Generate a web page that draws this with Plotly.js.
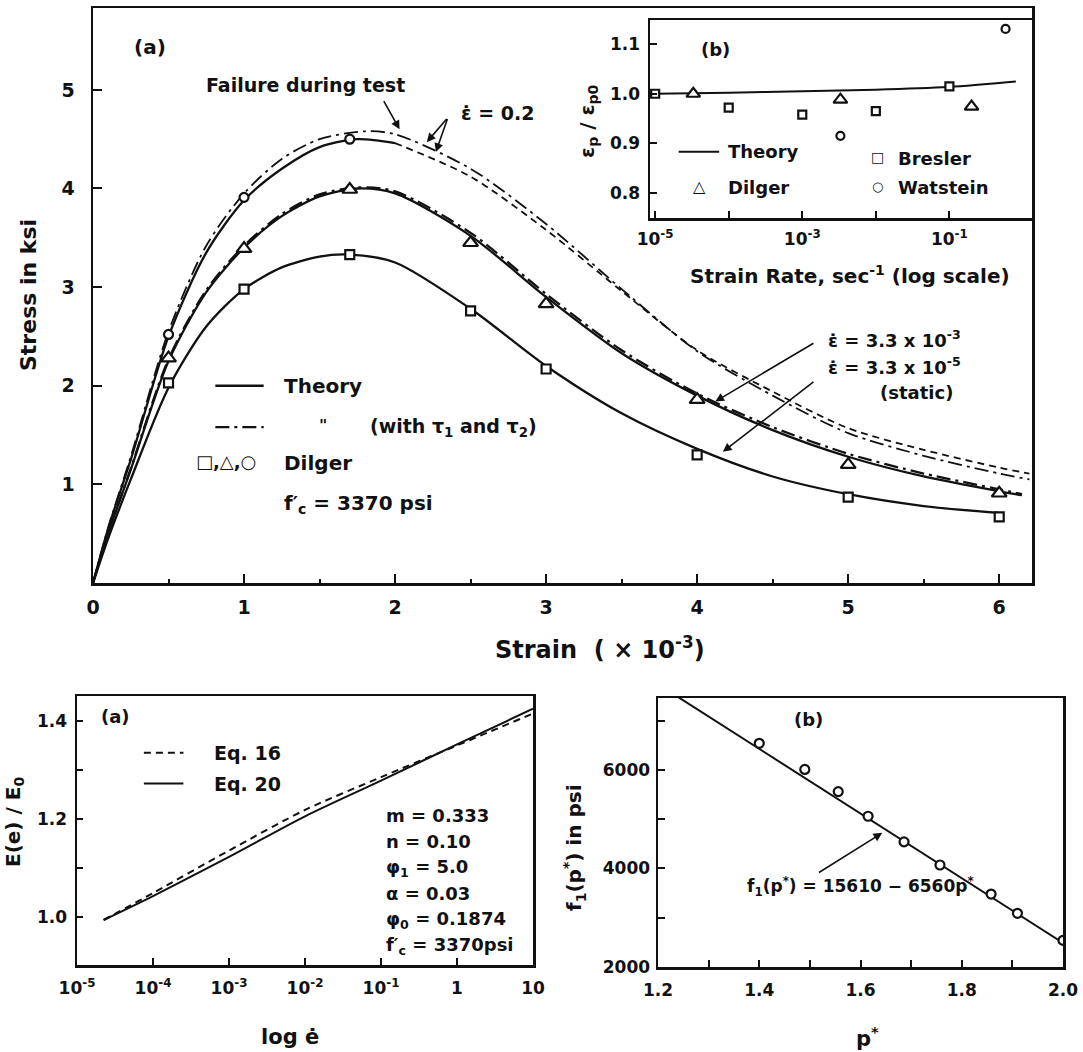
<!DOCTYPE html>
<html>
<head>
<meta charset="utf-8">
<script src="https://cdn.plot.ly/plotly-3.0.1.min.js"></script>
<style>html,body{margin:0;padding:0;background:#fff;}#chart{width:1083px;height:1052px;}</style>
</head>
<body>
<div id="chart"></div>
<script>
// ---------- Main plot (a): stress-strain ----------
const strainStatic = [0, 0.1, 0.25, 0.5, 0.75, 1.0, 1.25, 1.5, 1.7, 2.0, 2.5, 3.0, 3.5, 4.0, 4.5, 5.0, 5.5, 6.0];
const stressStatic = [0, 0.45, 1.05, 1.98, 2.6, 2.98, 3.2, 3.31, 3.33, 3.25, 2.78, 2.2, 1.72, 1.36, 1.08, 0.9, 0.78, 0.71];

const strainMid = [0, 0.1, 0.25, 0.5, 0.75, 1.0, 1.25, 1.5, 1.75, 2.0, 2.5, 3.0, 3.5, 4.0, 4.5, 5.0, 5.5, 6.0, 6.15];
const stressMid = [0, 0.5, 1.15, 2.25, 2.95, 3.4, 3.72, 3.92, 4.0, 3.95, 3.52, 2.9, 2.33, 1.9, 1.55, 1.28, 1.08, 0.93, 0.89];
const stressMidTau = [0, 0.5, 1.16, 2.27, 2.97, 3.42, 3.74, 3.94, 4.01, 3.97, 3.55, 2.93, 2.36, 1.92, 1.58, 1.31, 1.11, 0.95, 0.9];

const strainTop = [0, 0.1, 0.25, 0.5, 0.75, 1.0, 1.25, 1.5, 1.75, 2.0];
const stressTop = [0, 0.55, 1.25, 2.5, 3.35, 3.88, 4.2, 4.42, 4.5, 4.46];
const strainTopExt = [2.0, 2.5, 3.0, 3.5, 4.0, 4.5, 5.0, 5.5, 6.0, 6.2];
const stressTopExt = [4.46, 4.12, 3.58, 2.96, 2.36, 1.94, 1.57, 1.35, 1.17, 1.11];
const strainTopTau = [0, 0.1, 0.25, 0.5, 0.75, 1.0, 1.25, 1.5, 1.8, 2.0, 2.5, 3.0, 3.5, 4.0, 4.5, 5.0, 5.5, 6.0, 6.2];
const stressTopTau = [0, 0.56, 1.28, 2.55, 3.42, 3.95, 4.3, 4.5, 4.58, 4.55, 4.2, 3.64, 2.98, 2.35, 1.9, 1.52, 1.29, 1.11, 1.05];

const squareStrain = [0.5, 1.0, 1.7, 2.5, 3.0, 4.0, 5.0, 6.0];
const squareStress = [2.03, 2.98, 3.33, 2.76, 2.17, 1.3, 0.87, 0.67];
const triangleStrain = [0.5, 1.0, 1.7, 2.5, 3.0, 4.0, 5.0, 6.0];
const triangleStress = [2.28, 3.39, 3.99, 3.45, 2.83, 1.86, 1.2, 0.91];
const circleStrain = [0.5, 1.0, 1.7];
const circleStress = [2.52, 3.91, 4.5];

const mainXTicks = [0, 1, 2, 3, 4, 5, 6];
const mainYTicks = [1, 2, 3, 4, 5];

// ---------- Inset (b): peak strain ratio vs strain rate ----------
const theoryRate = [1e-5, 1e-4, 1e-3, 1e-2, 1e-1, 0.8];
const theoryRatio = [1.0, 1.002, 1.005, 1.008, 1.014, 1.025];
const breslerRate = [1e-5, 1e-4, 1e-3, 1e-2, 1e-1];
const breslerRatio = [1.0, 0.972, 0.958, 0.965, 1.015];
const dilgerRate = [3.3e-5, 3.3e-3, 0.2];
const dilgerRatio = [1.0, 0.988, 0.974];
const watsteinRate = [3.3e-3, 0.58];
const watsteinRatio = [0.915, 1.131];
const insetXTicks = [1e-5, 1e-4, 1e-3, 1e-2, 1e-1];
const insetXLabels = ['10<sup>-5</sup>', '', '10<sup>-3</sup>', '', '10<sup>-1</sup>'];
const insetYTicks = [0.8, 0.9, 1.0, 1.1];
const insetYLabels = ['0.8', '0.9', '1.0', '1.1'];

// ---------- Bottom (a): E(e)/E0 vs log strain rate ----------
const rateE = [2.24e-5, 1e-4, 1e-3, 1e-2, 1e-1, 1, 10];
const eq20 = [0.993, 1.042, 1.122, 1.205, 1.278, 1.352, 1.425];
const eq16 = [0.993, 1.048, 1.135, 1.218, 1.285, 1.35, 1.415];
const bottomAXTicks = [1e-5, 1e-4, 1e-3, 1e-2, 1e-1, 1, 10];
const bottomAXLabels = ['10<sup>-5</sup>', '10<sup>-4</sup>', '10<sup>-3</sup>', '10<sup>-2</sup>', '10<sup>-1</sup>', '1', '10'];
const bottomAYTicks = [1.0, 1.1, 1.2, 1.3, 1.4];
const bottomAYLabels = ['1.0', '', '1.2', '', '1.4'];
const paramLines = ['m = 0.333', 'n = 0.10', 'φ<sub>1</sub> = 5.0', 'α = 0.03', 'φ<sub>0</sub> = 0.1874', 'f′<sub>c</sub> = 3370psi'];

// ---------- Bottom (b): f1(p*) vs p* ----------
const pStar = [1.4, 1.49, 1.556, 1.615, 1.686, 1.757, 1.858, 1.91, 2.0];
const f1 = [6540, 6010, 5560, 5060, 4540, 4070, 3480, 3090, 2540];
const pLine = [1.2, 2.0];
const fLine = [7740, 2490];
const bottomBXTicks = [1.2, 1.3, 1.4, 1.5, 1.6, 1.7, 1.8, 1.9, 2.0];
const bottomBXLabels = ['1.2', '', '1.4', '', '1.6', '', '1.8', '', '2.0'];
const bottomBYTicks = [2000, 3000, 4000, 5000, 6000, 7000];
const bottomBYLabels = ['2000', '', '4000', '', '6000', ''];

const FONT = 'DejaVu Sans';
const K = '#111';
const DASHDOT = '14px,5px,3px,5px';
const DASH = '7px,5px';

function ln(x, y, dash, xa, ya, w, shape) {
  return {x: x, y: y, xaxis: xa || 'x', yaxis: ya || 'y', type: 'scatter', mode: 'lines',
    line: {color: K, width: w || 2.3, dash: dash || 'solid', shape: shape || 'spline', smoothing: 0.8},
    hoverinfo: 'skip', showlegend: false};
}
function mk(x, y, sym, size, xa, ya) {
  return {x: x, y: y, xaxis: xa || 'x', yaxis: ya || 'y', type: 'scatter', mode: 'markers',
    marker: {symbol: sym, size: size, color: '#fff', line: {color: K, width: 2.2}},
    hoverinfo: 'skip', showlegend: false};
}

const traces = [
  ln(strainStatic, stressStatic, 'solid'),
  ln(strainMid, stressMid, 'solid'),
  ln(strainMid, stressMidTau, DASHDOT),
  ln(strainTop, stressTop, 'solid'),
  ln(strainTopExt, stressTopExt, DASH, 'x', 'y', 1.8),
  ln(strainTopTau, stressTopTau, DASHDOT, 'x', 'y', 1.8),
  mk(squareStrain, squareStress, 'square', 9),
  mk(triangleStrain, triangleStress, 'triangle-up', 13),
  mk(circleStrain, circleStress, 'circle', 9),

  ln(theoryRate, theoryRatio, 'solid', 'x2', 'y2', 2),
  mk(breslerRate, breslerRatio, 'square', 8, 'x2', 'y2'),
  mk(dilgerRate, dilgerRatio, 'triangle-up', 12, 'x2', 'y2'),
  mk(watsteinRate, watsteinRatio, 'circle', 8, 'x2', 'y2'),

  ln(rateE, eq16, DASH, 'x3', 'y3', 2),
  ln(rateE, eq20, 'solid', 'x3', 'y3', 2),

  ln(pLine, fLine, 'solid', 'x4', 'y4', 2, 'linear'),
  mk(pStar, f1, 'circle', 9, 'x4', 'y4')
];

// legend sample strokes (layout decoration, drawn as short line traces)
function sample(x0, x1, y, dash, xa, ya, w) {
  traces.push({x: [x0, x1], y: [y, y], xaxis: xa, yaxis: ya, type: 'scatter', mode: 'lines',
    line: {color: K, width: w, dash: dash}, hoverinfo: 'skip', showlegend: false});
}
sample(0.81, 1.13, 2.0, 'solid', 'x', 'y', 2.3);
sample(0.81, 1.13, 1.58, DASHDOT, 'x', 'y', 2.3);
sample(Math.pow(10, -4.68), Math.pow(10, -4.13), 0.883, 'solid', 'x2', 'y2', 2);
sample(Math.pow(10, -4.12), Math.pow(10, -3.6), 1.335, DASH, 'x3', 'y3', 2);
sample(Math.pow(10, -4.12), Math.pow(10, -3.6), 1.272, 'solid', 'x3', 'y3', 2);

const W = 1083, H = 1052;
function dx(a, b) { return [a / W, b / W]; }
function dy(top, bottom) { return [1 - bottom / H, 1 - top / H]; }

function axisBase(extra) {
  return Object.assign({
    showgrid: false, zeroline: false, showline: true, mirror: true,
    linecolor: K, linewidth: 2.5, ticks: 'inside', ticklen: 9, tickwidth: 2, tickcolor: K,
    tickfont: {family: FONT, size: 19, color: K, weight: 'bold'},
    fixedrange: true
  }, extra);
}
const smallTick = {family: FONT, size: 17, color: K, weight: 'bold'};

const layout = {
  width: W, height: H,
  margin: {l: 0, r: 0, t: 0, b: 0},
  paper_bgcolor: '#fff', plot_bgcolor: 'rgba(0,0,0,0)',
  showlegend: false,
  font: {family: FONT, color: K},
  xaxis: axisBase({domain: dx(93, 1032), range: [0, 6.217], tickmode: 'array', tickvals: mainXTicks,
    ticktext: mainXTicks.map(String), anchor: 'y', ticklabelstandoff: 6,
    minor: {tickvals: [0.5, 1.5, 2.5, 3.5, 4.5, 5.5], ticks: 'inside', ticklen: 4, tickcolor: K}}),
  yaxis: axisBase({domain: dy(8, 583), range: [0, 5.83], tickmode: 'array', tickvals: mainYTicks,
    ticktext: mainYTicks.map(String), anchor: 'x', ticklabelstandoff: 12}),

  xaxis2: axisBase({domain: dx(650, 1032), type: 'log', range: [-5.07, 0.123], tickmode: 'array',
    tickvals: insetXTicks, ticktext: insetXLabels, anchor: 'y2', ticklen: 7,
    tickfont: smallTick, ticklabelstandoff: 4}),
  yaxis2: axisBase({domain: dy(20, 218), range: [0.749, 1.149], tickmode: 'array',
    tickvals: insetYTicks, ticktext: insetYLabels, anchor: 'x2', ticklen: 7,
    tickfont: smallTick, ticklabelstandoff: 4}),

  xaxis3: axisBase({domain: dx(77, 533), type: 'log', range: [-5, 1], tickmode: 'array',
    tickvals: bottomAXTicks, ticktext: bottomAXLabels, anchor: 'y3', ticklen: 7,
    tickfont: smallTick, ticklabelstandoff: 6}),
  yaxis3: axisBase({domain: dy(696, 965), range: [0.901, 1.451], tickmode: 'array',
    tickvals: bottomAYTicks, ticktext: bottomAYLabels, anchor: 'x3', ticklen: 6,
    tickfont: smallTick, ticklabelstandoff: 4}),

  xaxis4: axisBase({domain: dx(658, 1063), range: [1.2, 2.0], tickmode: 'array',
    tickvals: bottomBXTicks, ticktext: bottomBXLabels, anchor: 'y4', ticklen: 7,
    tickfont: smallTick, ticklabelstandoff: 6}),
  yaxis4: axisBase({domain: dy(698, 967), range: [2000, 7460], tickmode: 'array',
    tickvals: bottomBYTicks, ticktext: bottomBYLabels, anchor: 'x4', ticklen: 7,
    tickfont: smallTick, ticklabelstandoff: 2}),

  annotations: []
};

function txt(text, x, y, xref, yref, opts) {
  return Object.assign({text: text, x: x, y: y, xref: xref, yref: yref, showarrow: false,
    font: {family: FONT, size: 18, color: K, weight: 'bold'}, xanchor: 'center', yanchor: 'middle'}, opts || {});
}
function arrow(hx, hy, tx, ty, xr, yr) {
  return {text: '', x: hx, y: hy, ax: tx, ay: ty, xref: xr, yref: yr, axref: xr, ayref: yr,
    showarrow: true, arrowhead: 2, arrowsize: 1.1, arrowwidth: 1.6, arrowcolor: K};
}
const A = layout.annotations;
const f = (s, w) => ({family: FONT, size: s, color: K, weight: w || 'bold'});

// main plot texts
A.push(txt('(a)', 0.38, 5.43, 'x', 'y', {font: f(20)}));
A.push(txt('Failure during test', 1.41, 5.05, 'x', 'y', {font: f(19)}));
A.push(arrow(2.03, 4.6, 1.92, 4.9, 'x', 'y'));
A.push(txt('ε̇ = 0.2', 2.42, 4.77, 'x', 'y', {font: f(19), xanchor: 'left'}));
A.push(arrow(2.21, 4.47, 2.35, 4.72, 'x', 'y'));
A.push(arrow(2.27, 4.37, 2.35, 4.72, 'x', 'y'));
A.push(txt('Theory', 1.25, 2.0, 'x', 'y', {font: f(20), xanchor: 'left'}));
A.push(txt('"', 1.52, 1.6, 'x', 'y', {font: f(16), xanchor: 'center'}));
A.push(txt('(with τ<sub>1</sub> and τ<sub>2</sub>)', 1.82, 1.58, 'x', 'y', {font: f(19), xanchor: 'left'}));
A.push(txt('□,△,○', 0.88, 1.23, 'x', 'y', {font: f(18)}));
A.push(txt('Dilger', 1.25, 1.22, 'x', 'y', {font: f(20), xanchor: 'left'}));
A.push(txt('f′<sub>c</sub> = 3370 psi', 1.25, 0.8, 'x', 'y', {font: f(20), xanchor: 'left'}));
A.push(txt('ε̇ = 3.3 x 10<sup>-3</sup>', 4.85, 2.47, 'x', 'y', {font: f(18), xanchor: 'left'}));
A.push(txt('ε̇ = 3.3 x 10<sup>-5</sup>', 4.85, 2.2, 'x', 'y', {font: f(18), xanchor: 'left'}));
A.push(txt('(static)', 5.45, 1.93, 'x', 'y', {font: f(18)}));
A.push(arrow(4.12, 1.84, 4.78, 2.44, 'x', 'y'));
A.push(arrow(4.17, 1.33, 4.78, 2.05, 'x', 'y'));

// inset texts
A.push(txt('(b)', -4.18, 1.09, 'x2', 'y2', {font: f(18)}));
A.push(txt('Theory', -4.04, 0.883, 'x2', 'y2', {font: f(18), xanchor: 'left'}));
A.push(txt('△', -4.4, 0.812, 'x2', 'y2', {font: f(16)}));
A.push(txt('Dilger', -4.04, 0.81, 'x2', 'y2', {font: f(18), xanchor: 'left'}));
A.push(txt('□', -1.98, 0.872, 'x2', 'y2', {font: f(14)}));
A.push(txt('Bresler', -1.72, 0.87, 'x2', 'y2', {font: f(18), xanchor: 'left'}));
A.push(txt('○', -1.98, 0.812, 'x2', 'y2', {font: f(13)}));
A.push(txt('Watstein', -1.72, 0.81, 'x2', 'y2', {font: f(18), xanchor: 'left'}));

// bottom (a) texts
A.push(txt('(a)', -4.5, 1.41, 'x3', 'y3', {font: f(18)}));
A.push(txt('Eq. 16', -3.22, 1.335, 'x3', 'y3', {font: f(19), xanchor: 'left'}));
A.push(txt('Eq. 20', -3.22, 1.272, 'x3', 'y3', {font: f(19), xanchor: 'left'}));
paramLines.forEach(function (s, i) {
  A.push(txt(s, -0.96, 1.207 - i * 0.0535, 'x3', 'y3', {font: f(18), xanchor: 'left'}));
});

// bottom (b) texts
A.push(txt('(b)', 1.498, 7030, 'x4', 'y4', {font: f(18)}));
A.push(txt('f<sub>1</sub>(p<sup>*</sup>) = 15610 − 6560p<sup>*</sup>', 1.6, 3630, 'x4', 'y4', {font: f(17)}));
A.push(arrow(1.643, 4723, 1.515, 3900, 'x4', 'y4'));

// axis titles (paper)
A.push(txt('Stress in ksi', 28 / W, 1 - 295 / H, 'paper', 'paper', {font: f(22), textangle: -90}));
A.push(txt('Strain  ( × 10<sup>-3</sup>)', 600 / W, 1 - 648 / H, 'paper', 'paper', {font: f(24)}));
A.push(txt('ε<sub>p</sub> / ε<sub>p0</sub>', 588 / W, 1 - 121 / H, 'paper', 'paper', {font: f(20), textangle: -90}));
A.push(txt('Strain Rate, sec<sup>-1</sup> (log scale)', 850 / W, 1 - 275 / H, 'paper', 'paper', {font: f(20)}));
A.push(txt('E(e) / E<sub>0</sub>', 14 / W, 1 - 822 / H, 'paper', 'paper', {font: f(20), textangle: -90}));
A.push(txt('log ė', 290 / W, 1 - 1037 / H, 'paper', 'paper', {font: f(21)}));
A.push(txt('f<sub>1</sub>(p<sup>*</sup>) in psi', 574 / W, 1 - 848 / H, 'paper', 'paper', {font: f(20), textangle: -90}));
A.push(txt('p<sup>*</sup>', 867 / W, 1 - 1037 / H, 'paper', 'paper', {font: f(21)}));

Plotly.newPlot('chart', traces, layout, {staticPlot: true, displayModeBar: false});
</script>
</body>
</html>
